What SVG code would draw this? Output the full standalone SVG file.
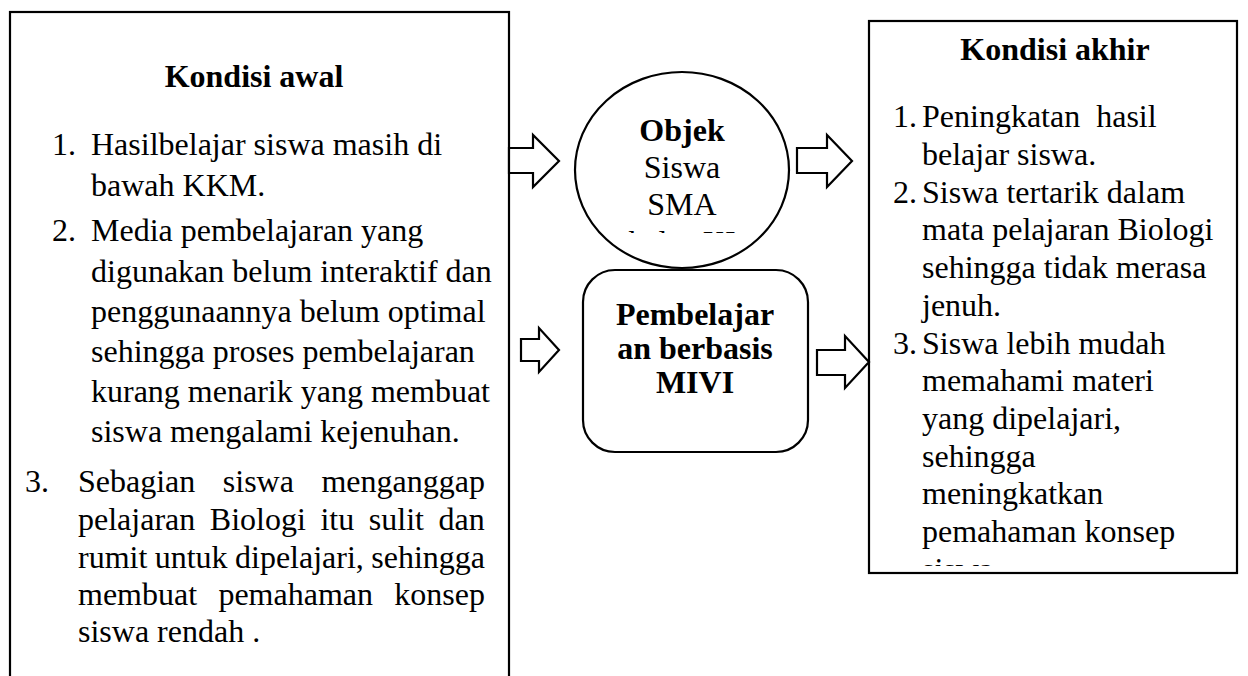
<svg xmlns="http://www.w3.org/2000/svg" width="1248" height="676" viewBox="0 0 1248 676">
<style>
text{font-family:"Liberation Serif","Times New Roman",serif;font-size:32px;fill:#000}
.b{font-weight:bold}
.c{text-anchor:middle}
.shape{fill:#fff;stroke:#000;stroke-width:2.2}
.arr{fill:#fff;stroke:#000;stroke-width:2.2;stroke-linejoin:miter}
</style>
<defs>
<clipPath id="clipCircle"><rect x="560" y="60" width="240" height="173"/></clipPath>
<clipPath id="clipRight"><rect x="860" y="10" width="388" height="556"/></clipPath>
</defs>
<rect width="1248" height="676" fill="#fff"/>

<g id="kondisi-awal">
<rect class="shape" x="10" y="12" width="499" height="700"/>
<text class="b c" x="254" y="87">Kondisi awal</text>
<text x="52" y="155">1.</text><text x="91" y="155">Hasilbelajar siswa masih di</text>
<text x="91" y="196">bawah KKM.</text>
<text x="52" y="241">2.</text><text x="91" y="241">Media pembelajaran yang</text>
<text x="91" y="282">digunakan belum interaktif dan</text>
<text x="91" y="322">penggunaannya belum optimal</text>
<text x="91" y="362">sehingga proses pembelajaran</text>
<text x="91" y="402">kurang menarik yang membuat</text>
<text x="91" y="442">siswa mengalami kejenuhan.</text>
<text x="25" y="492">3.</text><text x="78" y="492" word-spacing="19.5">Sebagian siswa menganggap</text>
<text x="78" y="530" word-spacing="6.6">pelajaran Biologi itu sulit dan</text>
<text x="78" y="568" word-spacing="-0.6">rumit untuk dipelajari, sehingga</text>
<text x="78" y="605" word-spacing="13.3">membuat pemahaman konsep</text>
<text x="78" y="642">siswa rendah .</text>
</g>

<g id="objek">
<ellipse class="shape" cx="682" cy="170" rx="107" ry="98"/>
<g clip-path="url(#clipCircle)">
<text class="b c" x="682" y="141">Objek</text>
<text class="c" x="682" y="178">Siswa</text>
<text class="c" x="682" y="215">SMA</text>
<text class="c" x="682" y="253">kelas XI</text>
</g>
</g>

<g id="pembelajaran">
<rect class="shape" x="583" y="270" width="225" height="182" rx="32" ry="32"/>
<text class="b c" x="695" y="325">Pembelajar</text>
<text class="b c" x="695" y="359">an berbasis</text>
<text class="b c" x="695" y="393">MIVI</text>
</g>

<g id="kondisi-akhir">
<rect class="shape" x="869" y="21" width="368" height="552"/>
<text class="b c" x="1055" y="60">Kondisi akhir</text>
<g clip-path="url(#clipRight)">
<text x="893" y="127">1.</text><text x="922" y="127" xml:space="preserve">Peningkatan  hasil</text>
<text x="922" y="165">belajar siswa.</text>
<text x="893" y="203">2.</text><text x="922" y="203">Siswa tertarik dalam</text>
<text x="922" y="240">mata pelajaran Biologi</text>
<text x="922" y="278">sehingga tidak merasa</text>
<text x="922" y="316">jenuh.</text>
<text x="893" y="354">3.</text><text x="922" y="354">Siswa lebih mudah</text>
<text x="922" y="391">memahami materi</text>
<text x="922" y="429">yang dipelajari,</text>
<text x="922" y="467">sehingga</text>
<text x="922" y="504">meningkatkan</text>
<text x="922" y="542">pemahaman konsep</text>
<text x="922" y="580">siswa.</text>
</g>
</g>

<g id="connectors">
<polygon class="arr" points="509,148 533,148 533,135 559,161 533,187 533,173 509,173"/>
<polygon class="arr" points="521,339 539,339 539,328 559,350 539,372 539,361 521,361"/>
<polygon class="arr" points="797,148 827,148 827,135 852,161 827,187 827,173 797,173"/>
<polygon class="arr" points="817,350 845,350 845,336 869,362 845,388 845,375 817,375"/>
</g>
</svg>
